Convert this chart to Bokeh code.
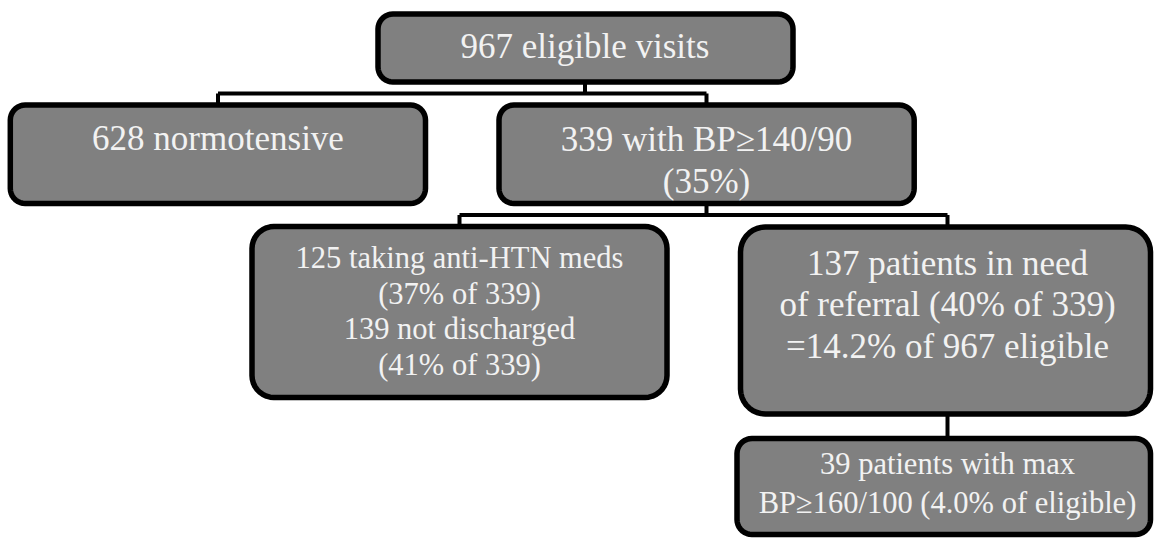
import numpy as np
from bokeh.plotting import figure
from bokeh.models import Range1d, ColumnDataSource
from bokeh.core.properties import value
from bokeh.embed import file_html
from bokeh.resources import INLINE

eligible_visits = 967
normotensive = 628
bp_high = 339
bp_high_pct = "35%"
on_meds = 125
on_meds_pct = "37%"
not_discharged = 139
not_discharged_pct = "41%"
referral_needed = 137
referral_pct_of_high = "40%"
referral_pct_of_eligible = "14.2%"
severe = 39
severe_pct = "4.0%"

node_ids = ["root", "normo", "high", "meds", "referral", "severe"]
node_labels = [
    [f"{eligible_visits} eligible visits"],
    [f"{normotensive} normotensive"],
    [f"{bp_high} with BP\u2265140/90", f"({bp_high_pct})"],
    [f"{on_meds} taking anti-HTN meds", f"({on_meds_pct} of {bp_high})",
     f"{not_discharged} not discharged", f"({not_discharged_pct} of {bp_high})"],
    [f"{referral_needed} patients in need",
     f"of referral ({referral_pct_of_high} of {bp_high})",
     f"={referral_pct_of_eligible} of {eligible_visits} eligible"],
    [f"{severe} patients with max", f"BP\u2265160/100 ({severe_pct} of eligible)"],
]
edges = [("root", "normo"), ("root", "high"), ("high", "meds"),
         ("high", "referral"), ("referral", "severe")]

# ---------------- layout (screen pixels) ----------------
# x0, y0, x1, y1, corner radius, text centre x, first baseline, line step, font px
layout = {
    "root":     (377.5, 13.5, 792.5, 81.5, 15, 584.5, 55, 0, 35),
    "normo":    (9.8, 104.5, 425.0, 203.0, 15, 217.5, 147, 0, 35),
    "high":     (498.5, 104.5, 913.7, 203.0, 15, 706.0, 148, 42, 35),
    "meds":     (251.5, 226.0, 666.5, 397.0, 22, 459.0, 267, 35.5, 30.5),
    "referral": (740.0, 226.5, 1150.0, 413.5, 25, 947.0, 272, 41.5, 35),
    "severe":   (736.5, 438.0, 1150.0, 534.0, 15, 947.0, 473, 39, 30.5),
}
BASELINE_SHIFT = -9.5  # renderer places alphabetic baseline lower than measured

BOX_FILL = "#808080"
TEXT_COLOR = "#f2f2f2"
FONT = "Liberation Serif"


def rounded(x0, y0, x1, y1, r, n=10):
    xs, ys = [], []
    corners = [
        (x1 - r, y0 + r, -np.pi / 2, 0.0),
        (x1 - r, y1 - r, 0.0, np.pi / 2),
        (x0 + r, y1 - r, np.pi / 2, np.pi),
        (x0 + r, y0 + r, np.pi, 1.5 * np.pi),
    ]
    for cx, cy, a0, a1 in corners:
        t = np.linspace(a0, a1, n)
        xs.extend((cx + r * np.cos(t)).tolist())
        ys.extend((cy + r * np.sin(t)).tolist())
    return xs, ys


p = figure(width=1156, height=538, output_backend="svg", toolbar_location=None,
           x_range=Range1d(0, 1156), y_range=Range1d(538, 0),
           x_axis_location=None, y_axis_location=None, min_border=0)
p.grid.visible = False
p.outline_line_color = None
p.background_fill_color = "white"

# connectors
cx_of = {k: layout[k][5] for k in node_ids}
lx, ly = [], []
children = {}
for a, b in edges:
    children.setdefault(a, []).append(b)
for parent, kids in children.items():
    pb = layout[parent][3]
    ct = min(layout[k][1] for k in kids)
    if len(kids) == 1:
        lx.append([cx_of[kids[0]], cx_of[kids[0]]])
        ly.append([pb, layout[kids[0]][1]])
    else:
        mid = (pb + ct) / 2
        lx.append([cx_of[parent], cx_of[parent]])
        ly.append([pb, mid])
        xs_k = [cx_of[k] for k in kids]
        lx.append([min(xs_k), max(xs_k)])
        ly.append([mid, mid])
        for k in kids:
            lx.append([cx_of[k], cx_of[k]])
            ly.append([mid, layout[k][1]])
p.multi_line(lx, ly, line_color="black", line_width=4)

# boxes
bxs, bys = [], []
for k in node_ids:
    x0, y0, x1, y1, r = layout[k][:5]
    xs, ys = rounded(x0, y0, x1, y1, r)
    bxs.append(xs)
    bys.append(ys)
p.patches(bxs, bys, fill_color=BOX_FILL, line_color="black", line_width=5.5,
          line_join="round")

# texts
tx, ty, tt, tsz = [], [], [], []
for k, lines in zip(node_ids, node_labels):
    cx, base, step, fs = layout[k][5:9]
    for i, s in enumerate(lines):
        tx.append(cx)
        ty.append(base + i * step + BASELINE_SHIFT)
        tt.append(s)
        tsz.append(f"{fs}px")
src = ColumnDataSource(dict(x=tx, y=ty, text=tt, size=tsz))
p.text(x="x", y="y", text="text", source=src, text_align="center",
       text_baseline="alphabetic", text_font=value(FONT),
       text_font_size="size", text_color=TEXT_COLOR)

open("out.html", "w").write(file_html(p, INLINE))
